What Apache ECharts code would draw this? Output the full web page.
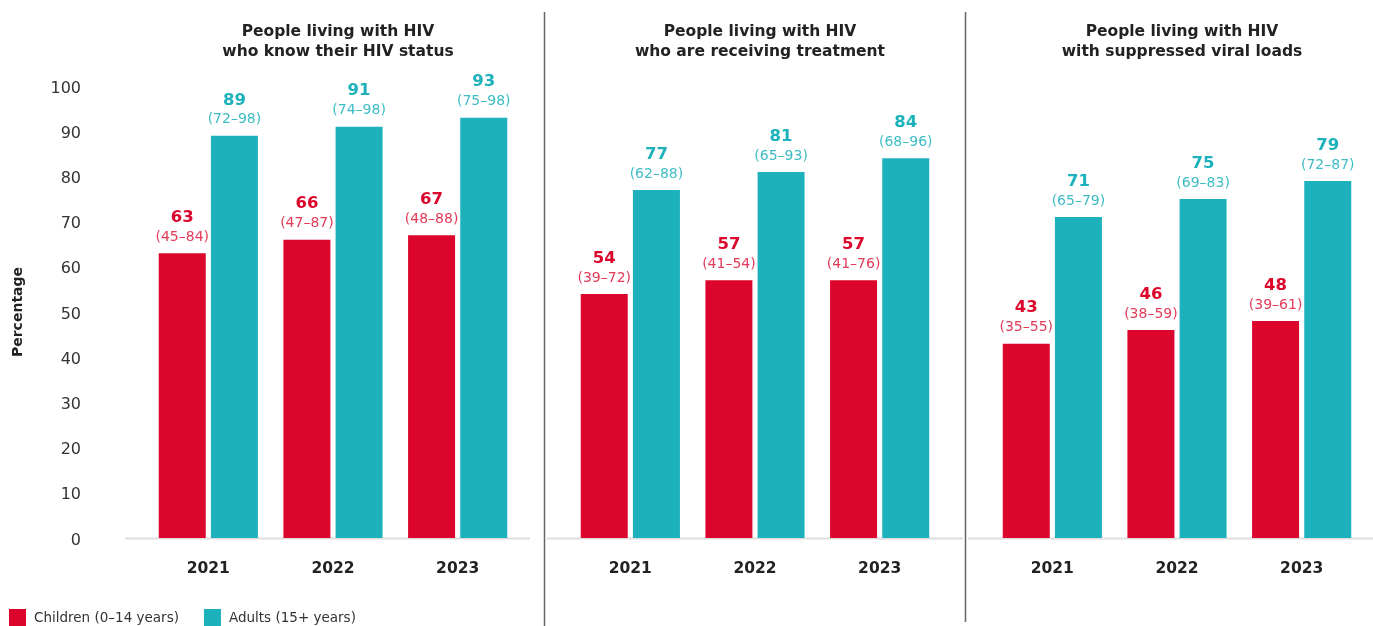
<!DOCTYPE html>
<html><head><meta charset="utf-8">
<script src="https://cdn.jsdelivr.net/npm/echarts@6/dist/echarts.min.js"></script>
<style>html,body{margin:0;padding:0;background:#fff}#c{width:1373px;height:626px}</style>
</head><body><div id="c"></div>
<script>
const years = ["2021","2022","2023"];
const panelTitles = ["People living with HIV\nwho know their HIV status","People living with HIV\nwho are receiving treatment","People living with HIV\nwith suppressed viral loads"];
const seriesNames = ["Children (0–14 years)","Adults (15+ years)"];
const yTicks = [0,10,20,30,40,50,60,70,80,90,100];
// panel 1: know status
const knowChildren = [63,66,67];
const knowAdults = [89,91,93];
const knowChildrenRange = ["45–84","47–87","48–88"];
const knowAdultsRange = ["72–98","74–98","75–98"];
// panel 2: receiving treatment
const treatChildren = [54,57,57];
const treatAdults = [77,81,84];
const treatChildrenRange = ["39–72","41–54","41–76"];
const treatAdultsRange = ["62–88","65–93","68–96"];
// panel 3: suppressed viral loads
const vlsChildren = [43,46,48];
const vlsAdults = [71,75,79];
const vlsChildrenRange = ["35–55","38–59","39–61"];
const vlsAdultsRange = ["65–79","69–83","72–87"];

const RED = "#DC052C", TEAL = "#1CB1BB";
const RED_L = "#E33A58", TEAL_L = "#3DBCC5";
const FONT = "DejaVu Sans";

const panels = [
  {children: knowChildren, adults: knowAdults, cr: knowChildrenRange, ar: knowAdultsRange},
  {children: treatChildren, adults: treatAdults, cr: treatChildrenRange, ar: treatAdultsRange},
  {children: vlsChildren, adults: vlsAdults, cr: vlsChildrenRange, ar: vlsAdultsRange}
];
const gridLefts = [146, 568, 990];
const gridW = 374;

const grid = gridLefts.map(l => ({left: l, width: gridW, top: 86, height: 452}));
const xAxis = gridLefts.map((l,i) => ({
  type: "category", gridIndex: i, data: years,
  axisLine: {show: false}, axisTick: {show: false},
  axisLabel: {margin: 23, fontFamily: FONT, fontWeight: "bold", fontSize: 15.5, color: "#222"}
}));
const yAxis = gridLefts.map((l,i) => ({
  type: "value", gridIndex: i, min: 0, max: 100, interval: 10,
  splitLine: {show: false}, axisLine: {show: false}, axisTick: {show: false},
  axisLabel: {show: i === 0, margin: 65, formatter: v => "{t|" + v + "}",
    rich: {t: {fontFamily: FONT, fontSize: 16, color: "#333", padding: [5,0,0,0]}}},
  name: i === 0 ? "Percentage" : "", nameLocation: "middle", nameGap: 121,
  nameTextStyle: {fontFamily: FONT, fontWeight: "bold", fontSize: 14, color: "#222"}
}));

function mkLabel(vals, ranges, cMain, cLight) {
  return {
    show: true, position: "top", distance: 7,
    formatter: p => "{v|" + vals[p.dataIndex] + "}\n{r|(" + ranges[p.dataIndex] + ")}",
    rich: {
      v: {fontFamily: FONT, fontWeight: "bold", fontSize: 16.5, color: cMain, lineHeight: 21, align: "center"},
      r: {fontFamily: FONT, fontSize: 14, color: cLight, lineHeight: 18, align: "center"}
    }
  };
}

const series = [];
panels.forEach((p,i) => {
  series.push({
    name: seriesNames[0], type: "bar", xAxisIndex: i, yAxisIndex: i,
    data: p.children, barWidth: 47, barGap: "11%",
    itemStyle: {color: RED}, label: mkLabel(p.children, p.cr, RED, RED_L)
  });
  series.push({
    name: seriesNames[1], type: "bar", xAxisIndex: i, yAxisIndex: i,
    data: p.adults, barWidth: 47, barGap: "11%",
    itemStyle: {color: TEAL}, label: mkLabel(p.adults, p.ar, TEAL, TEAL_L)
  });
});

const titles = panelTitles.map((t,i) => ({
  text: t, left: gridLefts[i] + gridW/2, top: 17, textAlign: "center",
  textStyle: {fontFamily: FONT, fontWeight: "bold", fontSize: 15.5, color: "#222", lineHeight: 20}
}));

const graphic = [
  {type: "line", shape: {x1: 125, y1: 538.5, x2: 530, y2: 538.5}, style: {stroke: "#dddddd", lineWidth: 2}, z: -1},
  {type: "line", shape: {x1: 547, y1: 538.5, x2: 963, y2: 538.5}, style: {stroke: "#dddddd", lineWidth: 2}, z: -1},
  {type: "line", shape: {x1: 968, y1: 538.5, x2: 1373, y2: 538.5}, style: {stroke: "#dddddd", lineWidth: 2}, z: -1},
  {type: "line", shape: {x1: 544.5, y1: 12, x2: 544.5, y2: 626}, style: {stroke: "#666", lineWidth: 1.5}},
  {type: "line", shape: {x1: 965.5, y1: 12, x2: 965.5, y2: 622}, style: {stroke: "#666", lineWidth: 1.5}}
];

const chart = echarts.init(document.getElementById("c"), null, {renderer: "canvas"});
chart.setOption({
  animation: false,
  title: titles,
  grid, xAxis, yAxis, series, graphic,
  legend: {
    data: seriesNames, left: 9, top: 609, itemWidth: 17, itemHeight: 18, itemGap: 25,
    icon: "rect", padding: 0,
    textStyle: {fontFamily: FONT, fontSize: 13.5, color: "#333", padding: [0,0,0,3]}
  }
});
</script></body></html>
